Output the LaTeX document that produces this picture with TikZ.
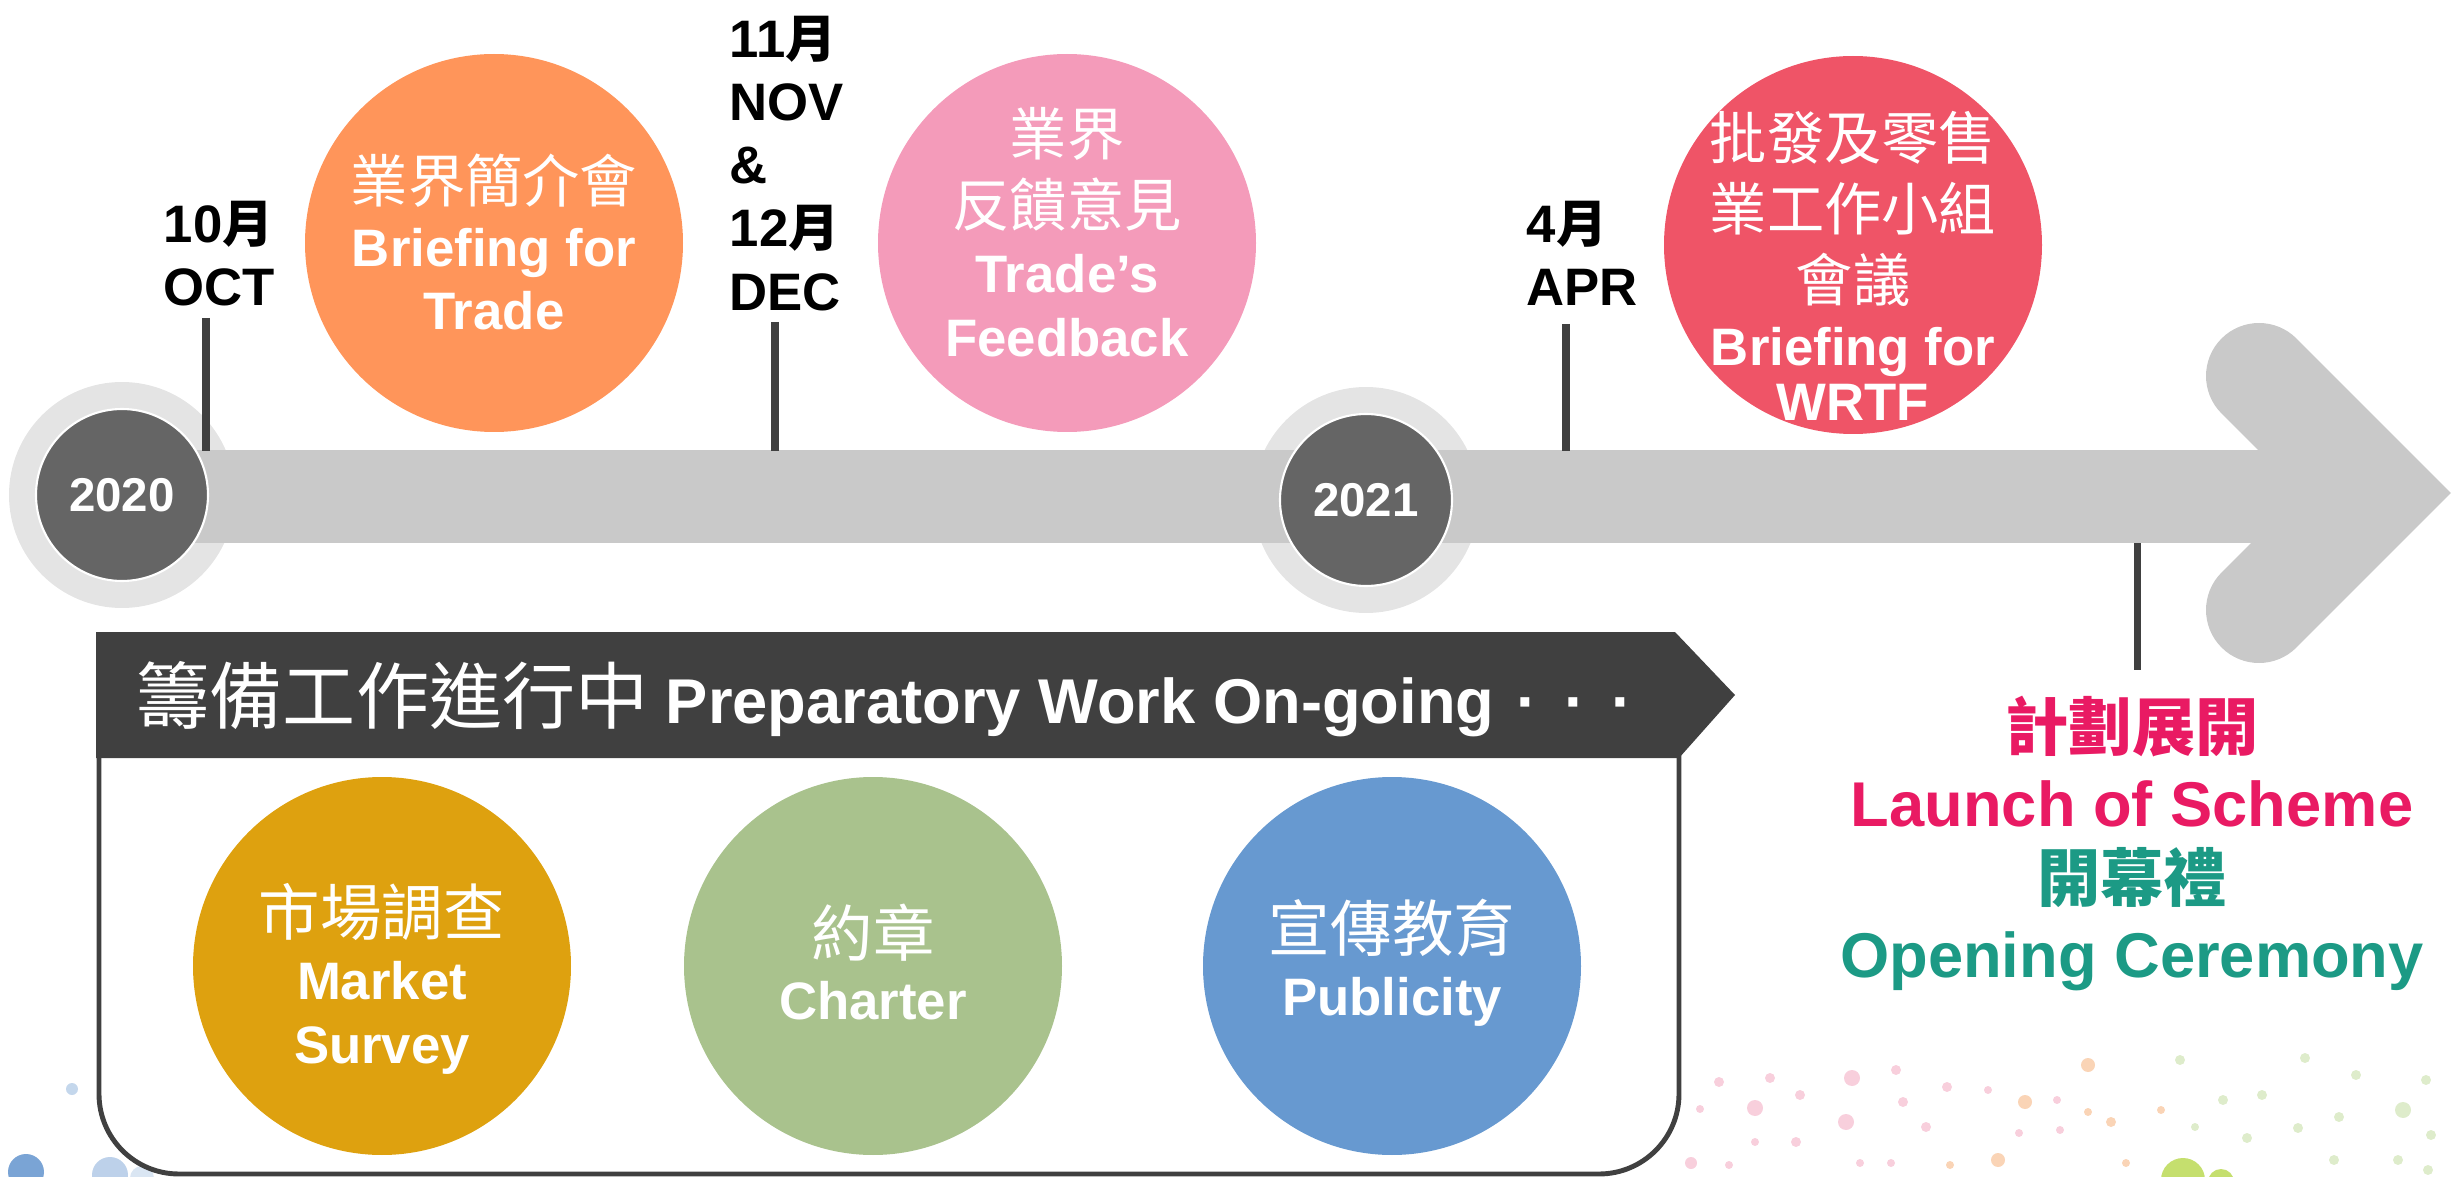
\documentclass[tikz,border=0pt]{standalone}
\usepackage{fontspec}
\setmainfont{Liberation Sans}
\newfontfamily\cjk{Noto Sans CJK TC}
\usepackage{tikz}
\usetikzlibrary{positioning,calc}

\definecolor{barGray}{HTML}{C9C9C9}
\definecolor{ringGray}{HTML}{E4E4E4}
\definecolor{yearDark}{HTML}{656565}
\definecolor{tickGray}{HTML}{404040}
\definecolor{tradeOrange}{HTML}{FF955A}
\definecolor{feedPink}{HTML}{F49BBA}
\definecolor{wrtfRed}{HTML}{EF5467}
\definecolor{surveyGold}{HTML}{DEA10F}
\definecolor{charterGreen}{HTML}{A9C28D}
\definecolor{pubBlue}{HTML}{6799D0}
\definecolor{launchPink}{HTML}{E91A63}
\definecolor{openTeal}{HTML}{1C9A85}
\definecolor{dotPink}{HTML}{F2A7C0}
\definecolor{dotOrange}{HTML}{F5B07A}
\definecolor{dotGreen}{HTML}{C3DCA0}
\definecolor{dotLime}{HTML}{B7D74A}
\definecolor{dotBlue}{HTML}{6C9AD0}

\newcommand{\zh}[2][16.3]{{\cjk\mdseries\fontsize{#1}{18.2}\selectfont #2}}
\newcommand{\zhb}[2][14.5]{{\cjk\bfseries\fontsize{#1}{18.2}\selectfont #2}}

\begin{document}
\begin{tikzpicture}[
    x=0.1mm, y=-0.1mm,
    ring/.style={circle, minimum size=22.6mm, inner sep=0pt, fill=ringGray},
    year/.style={circle, minimum size=17.2mm, inner sep=0pt, fill=yearDark, draw=white, line width=0.6pt,
        text=white, font=\bfseries\fontsize{13.5}{16}\selectfont},
    bubble/.style={circle, minimum size=37.8mm, inner sep=0pt},
    bubtxt/.style={text=white, align=center, inner sep=0pt, font=\bfseries\fontsize{15}{18.2}\selectfont},
    datelbl/.style={align=left, anchor=north west, inner sep=0pt, font=\bfseries\fontsize{15}{18}\selectfont},
    tick/.style={draw=tickGray, line width=2pt}
]
\useasboundingbox (0,0) rectangle (2453,1177);

% background dots
\foreach \dx/\dy/\dr/\dc in {1719/1082/5/dotPink, 1770/1078/5/dotPink, 1755/1108/8/dotPink,
    1800/1095/5/dotPink, 1852/1078/8/dotPink, 1896/1070/5/dotPink, 1846/1122/8/dotPink,
    1903/1102/5/dotPink, 1700/1109/4/dotPink, 1755/1142/4/dotPink, 1796/1142/5/dotPink,
    1691/1163/6/dotPink, 1729/1165/4/dotPink, 1860/1163/4/dotPink, 1891/1163/4/dotPink,
    1926/1127/5/dotPink, 1947/1087/5/dotPink, 1988/1090/4/dotPink, 2057/1100/4/dotPink,
    2019/1133/4/dotPink, 2060/1130/4/dotPink,
    2088/1065/7/dotOrange, 2025/1102/7/dotOrange, 1998/1160/7/dotOrange, 2111/1122/5/dotOrange,
    2088/1112/4/dotOrange, 2161/1110/4/dotOrange, 1950/1165/4/dotOrange, 2126/1163/4/dotOrange,
    2180/1060/5/dotGreen, 2305/1058/5/dotGreen, 2356/1075/5/dotGreen, 2262/1095/5/dotGreen,
    2223/1100/5/dotGreen, 2426/1080/5/dotGreen, 2403/1110/8/dotGreen, 2339/1117/5/dotGreen,
    2298/1128/5/dotGreen, 2247/1138/5/dotGreen, 2431/1135/5/dotGreen, 2334/1160/5/dotGreen,
    2398/1160/5/dotGreen, 2428/1170/5/dotGreen, 2195/1127/4/dotGreen}
    \fill[\dc, opacity=0.55] (\dx,\dy) circle[radius=\dr];
\fill[dotLime, opacity=0.8] (2183,1180) circle[radius=22];
\fill[dotLime, opacity=0.8] (2221,1182) circle[radius=13];
\fill[dotBlue, opacity=0.9] (26,1172) circle[radius=18];
\fill[dotBlue, opacity=0.45] (110,1175) circle[radius=18];
\fill[dotBlue, opacity=0.25] (142,1178) circle[radius=12];
\fill[dotBlue, opacity=0.4] (72,1089) circle[radius=6];

% timeline
\node[ring] (ring20) at (122,495) {};
\node[ring] (ring21) at (1366,500) {};
\fill[barGray] (122,450) rectangle (2330,543);
\draw[barGray, line width=10.6mm, line cap=round, line join=miter] (2259,376) -- (2376,493) -- (2259,610);
\node[year] (yr20) at (ring20) {2020};
\node[year] (yr21) at (ring21) {2021};

% dates
\node[datelbl] (oct) at (163,200) {10\zhb{月}\\OCT};
\node[datelbl] (novdec) at (729,15) {11\zhb{月}\\NOV\\\&\\12\zhb{月}\\DEC};
\node[datelbl] (apr) at (1526,200) {4\zhb{月}\\APR};
\coordinate (octtick) at (206,318);
\coordinate (novtick) at (775,322);
\coordinate (aprtick) at (1566,324);
\coordinate (launchtick) at (2137,543);
\draw[tick] (octtick) -- ++(0,133);
\draw[tick] (novtick) -- ++(0,129);
\draw[tick] (aprtick) -- ++(0,127);
\draw[tick] (launchtick) -- ++(0,127);

% events
\node[bubble, fill=tradeOrange] (trade) at (494,243) {};
\node[bubtxt] (tradetxt) at ($(trade)+(0,-1)$) {\zh{業界簡介會}\\Briefing for\\Trade};
\node[bubble, fill=feedPink] (feedback) at (1067,243) {};
\node[bubtxt] (feedbacktxt) at ($(feedback)+(0,-11)$) {\zh{業界}\\[2pt]\zh{反饋意見}\\[0.5pt]Trade’s\\Feedback};
\node[bubble, fill=wrtfRed] (wrtf) at (1853,245) {};
\node[bubtxt] (wrtftxt) at ($(wrtf)+(0,21)$) {\zh{批發及零售}\\[2pt]\zh{業工作小組}\\[2pt]\zh{會議}\\Briefing for\\[-2.5pt]WRTF};

% preparatory work
\fill[tickGray] (96,632) -- (1675,632) -- (1735,695) -- (1679,758) -- (96,758) -- cycle;
\draw[tickGray, line width=1.4pt, rounded corners=8mm] (99,752) -- (99,1174) -- (1679,1174) -- (1679,752);
\node[anchor=base west, inner sep=0pt, text=white, font=\bfseries\fontsize{18}{21}\selectfont] (prep) at (136,723)
    {\zh[20.8]{籌備工作進行中} Preparatory Work On-going\hspace{0.35em}·\hspace{0.42em}·\hspace{0.42em}·};
\node[bubble, fill=surveyGold] (survey) at (382,966) {};
\node[bubtxt] (surveytxt) at ($(survey)+(0,13)$) {\zh[17.5]{市場調查}\\Market\\Survey};
\node[bubble, fill=charterGreen] (charter) at (873,966) {};
\node[bubtxt] (chartertxt) at ($(charter)+(0,-4)$) {\zh[17.5]{約章}\\Charter};
\node[bubble, fill=pubBlue] (publicity) at (1392,966) {};
\node[bubtxt] (publicitytxt) at ($(publicity)+(0,-3)$) {\zh[17.5]{宣傳教育}\\Publicity};

% launch
\node[anchor=north, align=center, inner sep=0pt, font=\bfseries\fontsize{18}{21.6}\selectfont] (launch) at (2132,695)
    {\textcolor{launchPink}{\zhb[18]{計劃展開}}\\\textcolor{launchPink}{Launch of Scheme}\\
     \textcolor{openTeal}{\zhb[18]{開幕禮}}\\\textcolor{openTeal}{Opening Ceremony}};
\end{tikzpicture}
\end{document}
